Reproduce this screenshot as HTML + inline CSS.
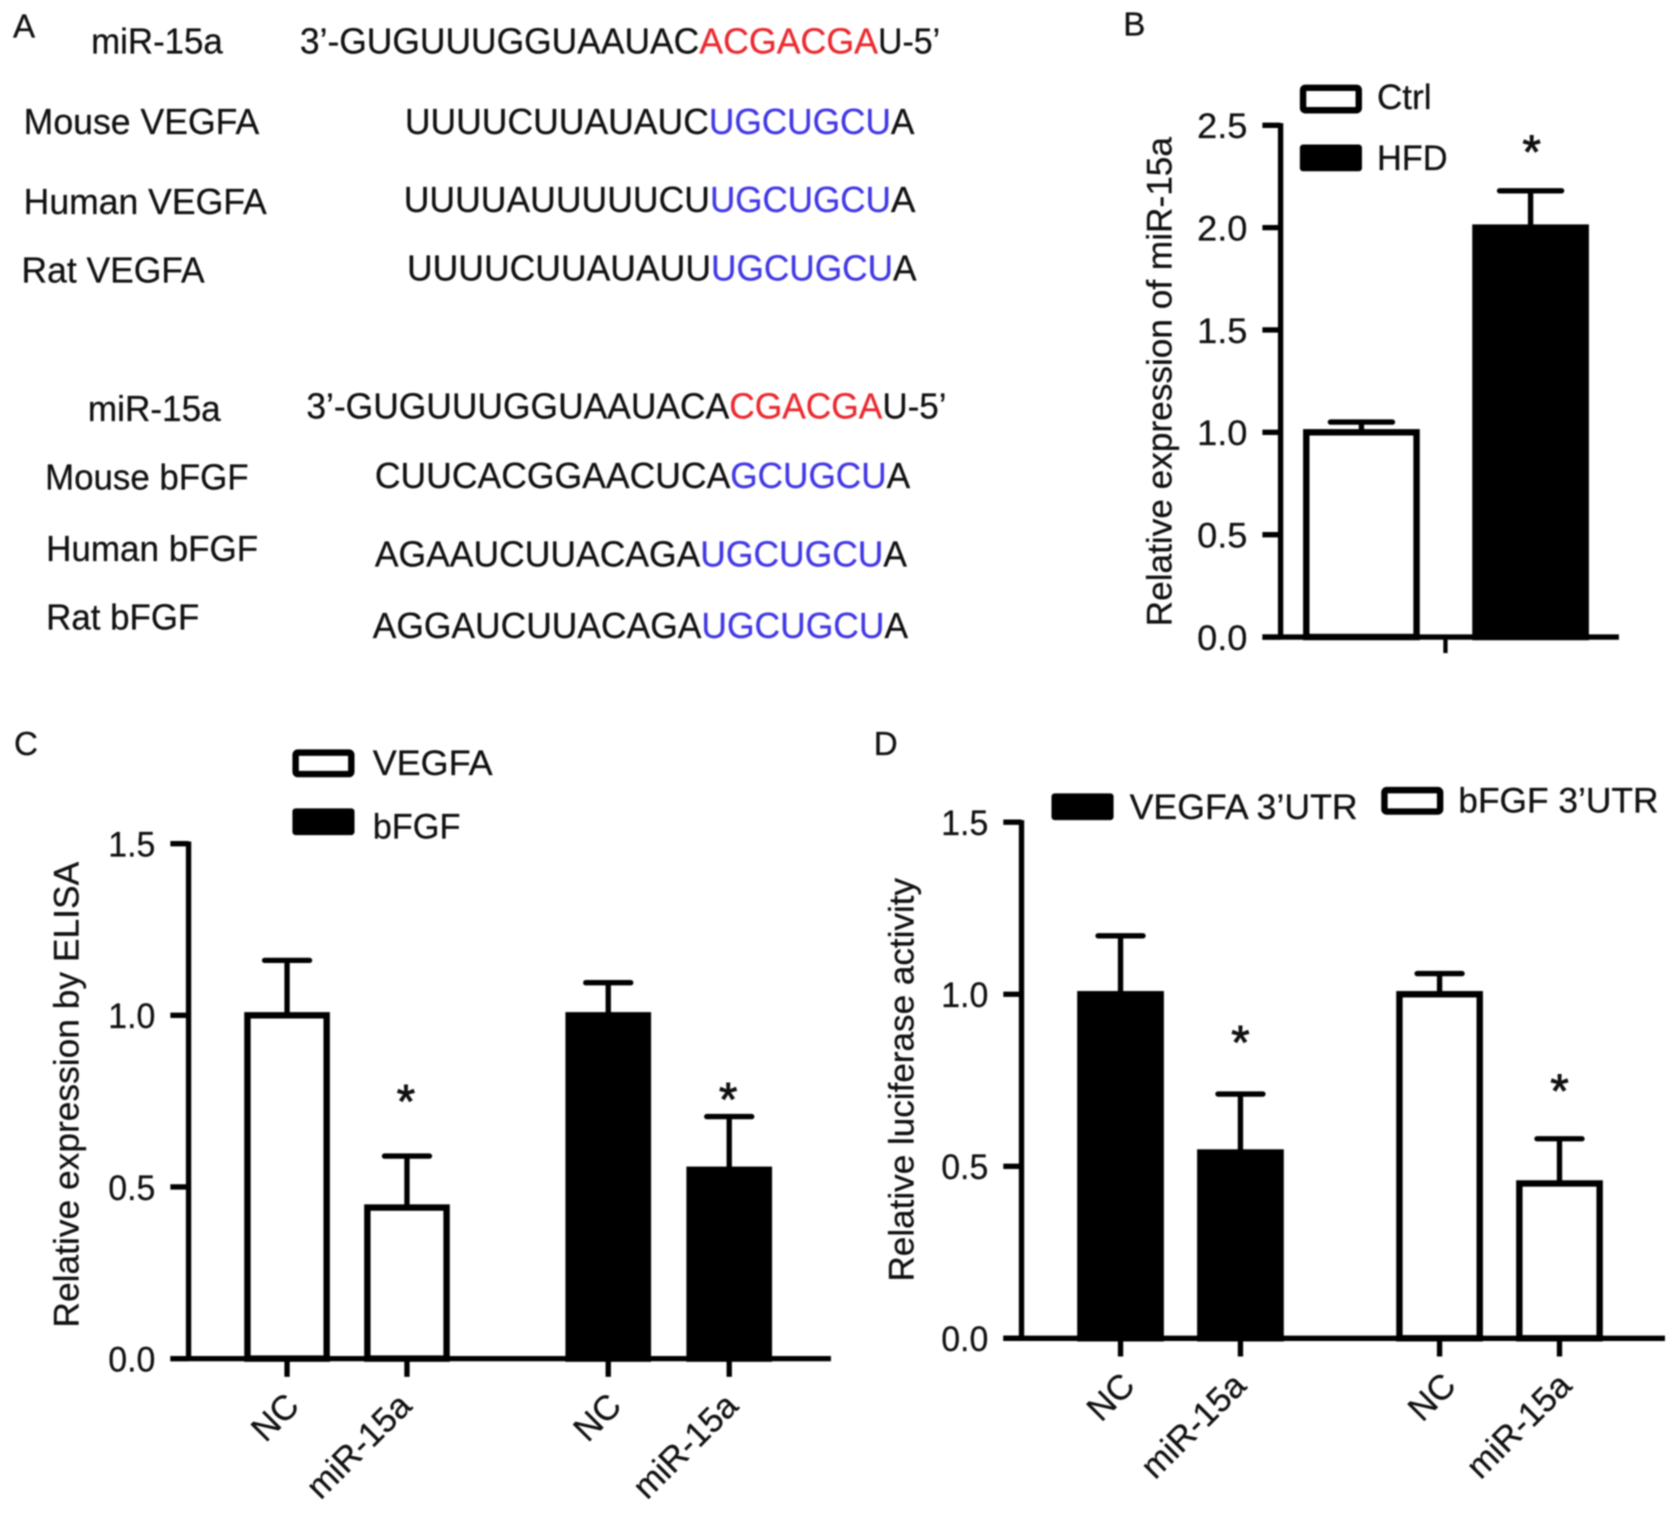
<!DOCTYPE html>
<html>
<head>
<meta charset="utf-8">
<title>miR-15a figure</title>
<style>
html,body{margin:0;padding:0;background:#fff;}
svg{display:block;filter:blur(0.85px);}
text{font-family:"Liberation Sans",sans-serif;fill:#111;stroke:#111;stroke-width:0.25px;}
.seq,.lab{font-size:34px;}
.red{fill:#ea2a30;stroke:#ea2a30;}
.blue{fill:#4238e4;stroke:#4238e4;}
.letter{font-size:31px;}
.leg{font-size:33px;}
.ttl{font-size:33px;}
</style>
</head>
<body>
<svg id="figure" xmlns="http://www.w3.org/2000/svg" width="1679" height="1516" viewBox="0 0 1568 1416">
<rect width="1568" height="1416" fill="#fff"/>
<g>
<text class="letter" x="12" y="35">A</text>
<text class="lab" x="85" y="50" textLength="123" lengthAdjust="spacingAndGlyphs">miR-15a</text>
<text class="seq" x="280" y="50" textLength="373" lengthAdjust="spacingAndGlyphs">3’-GUGUUUGGUAAUAC</text>
<text class="seq red" x="653" y="50" textLength="167" lengthAdjust="spacingAndGlyphs">ACGACGA</text>
<text class="seq" x="820" y="50" textLength="58" lengthAdjust="spacingAndGlyphs">U-5’</text>

<text class="lab" x="22" y="125" textLength="220" lengthAdjust="spacingAndGlyphs">Mouse VEGFA</text>
<text class="seq" x="378" y="125" textLength="284" lengthAdjust="spacingAndGlyphs">UUUUCUUAUAUC</text>
<text class="seq blue" x="662" y="125" textLength="170" lengthAdjust="spacingAndGlyphs">UGCUGCU</text>
<text class="seq" x="832" y="125" textLength="22" lengthAdjust="spacingAndGlyphs">A</text>

<text class="lab" x="22" y="200" textLength="227" lengthAdjust="spacingAndGlyphs">Human VEGFA</text>
<text class="seq" x="377" y="198" textLength="286" lengthAdjust="spacingAndGlyphs">UUUUAUUUUUCU</text>
<text class="seq blue" x="663" y="198" textLength="169" lengthAdjust="spacingAndGlyphs">UGCUGCU</text>
<text class="seq" x="832" y="198" textLength="23" lengthAdjust="spacingAndGlyphs">A</text>

<text class="lab" x="20" y="264" textLength="171" lengthAdjust="spacingAndGlyphs">Rat VEGFA</text>
<text class="seq" x="380" y="262" textLength="284" lengthAdjust="spacingAndGlyphs">UUUUCUUAUAUU</text>
<text class="seq blue" x="664" y="262" textLength="170" lengthAdjust="spacingAndGlyphs">UGCUGCU</text>
<text class="seq" x="834" y="262" textLength="22" lengthAdjust="spacingAndGlyphs">A</text>

<text class="lab" x="82" y="393" textLength="124" lengthAdjust="spacingAndGlyphs">miR-15a</text>
<text class="seq" x="286" y="391" textLength="395" lengthAdjust="spacingAndGlyphs">3’-GUGUUUGGUAAUACA</text>
<text class="seq red" x="681" y="391" textLength="143" lengthAdjust="spacingAndGlyphs">CGACGA</text>
<text class="seq" x="824" y="391" textLength="60" lengthAdjust="spacingAndGlyphs">U-5’</text>

<text class="lab" x="42" y="457" textLength="190" lengthAdjust="spacingAndGlyphs">Mouse bFGF</text>
<text class="seq" x="350" y="456" textLength="332" lengthAdjust="spacingAndGlyphs">CUUCACGGAACUCA</text>
<text class="seq blue" x="682" y="456" textLength="146" lengthAdjust="spacingAndGlyphs">GCUGCU</text>
<text class="seq" x="828" y="456" textLength="22" lengthAdjust="spacingAndGlyphs">A</text>

<text class="lab" x="43" y="524" textLength="198" lengthAdjust="spacingAndGlyphs">Human bFGF</text>
<text class="seq" x="350" y="529" textLength="304" lengthAdjust="spacingAndGlyphs">AGAAUCUUACAGA</text>
<text class="seq blue" x="654" y="529" textLength="171" lengthAdjust="spacingAndGlyphs">UGCUGCU</text>
<text class="seq" x="825" y="529" textLength="22" lengthAdjust="spacingAndGlyphs">A</text>

<text class="lab" x="43" y="588" textLength="143" lengthAdjust="spacingAndGlyphs">Rat bFGF</text>
<text class="seq" x="348" y="596" textLength="307" lengthAdjust="spacingAndGlyphs">AGGAUCUUACAGA</text>
<text class="seq blue" x="655" y="596" textLength="171" lengthAdjust="spacingAndGlyphs">UGCUGCU</text>
<text class="seq" x="826" y="596" textLength="22" lengthAdjust="spacingAndGlyphs">A</text>
</g>

<g>
<text class="letter" x="1049" y="33">B</text>
<text class="letter" x="13" y="705">C</text>
<text class="letter" x="816" y="705">D</text>

<rect x="1217" y="82" width="52" height="21" fill="#fff" stroke="#000" stroke-width="6" rx="2"/>
<text class="leg" x="1286" y="102" textLength="51" lengthAdjust="spacingAndGlyphs">Ctrl</text>
<rect x="1214" y="135" width="58" height="25" fill="#000" rx="3"/>
<text class="leg" x="1286" y="159" textLength="66" lengthAdjust="spacingAndGlyphs">HFD</text>
<text class="ttl" transform="translate(1094 585) rotate(-90)" textLength="457" lengthAdjust="spacingAndGlyphs">Relative expression of miR-15a</text>

<rect x="276" y="703" width="52" height="20" fill="#fff" stroke="#000" stroke-width="6" rx="2"/>
<text class="leg" x="348" y="724" textLength="112" lengthAdjust="spacingAndGlyphs">VEGFA</text>
<rect x="273" y="755" width="58" height="25" fill="#000" rx="3"/>
<text class="leg" x="348" y="783" textLength="82" lengthAdjust="spacingAndGlyphs">bFGF</text>
<text class="ttl" transform="translate(73 1240) rotate(-90)" textLength="435" lengthAdjust="spacingAndGlyphs">Relative expression by ELISA</text>

<rect x="982" y="741" width="58" height="25" fill="#000" rx="3"/>
<text class="leg" x="1055" y="765" textLength="213" lengthAdjust="spacingAndGlyphs">VEGFA 3’UTR</text>
<rect x="1293" y="738" width="52" height="20" fill="#fff" stroke="#000" stroke-width="6" rx="2"/>
<text class="leg" x="1362" y="759" textLength="187" lengthAdjust="spacingAndGlyphs">bFGF 3’UTR</text>
<text class="ttl" transform="translate(853 1197) rotate(-90)" textLength="377" lengthAdjust="spacingAndGlyphs">Relative luciferase activity</text>
</g>
<g id="charts"></g>
</svg>
<script>
// Panel B data
var bCategories = ["Ctrl", "HFD"];
var bValues = [1.0, 2.0];
var bErrorTops = [1.05, 2.18];
var bStars = [null, 2.395];
var bFills = ["white", "black"];
var bTicks = [0, 0.5, 1, 1.5, 2, 2.5];
var bTickLabels = ["0.0", "0.5", "1.0", "1.5", "2.0", "2.5"];

// Panel C data
var cCategories = ["NC", "miR-15a", "NC", "miR-15a"];
var cValues = [1.0, 0.44, 1.0, 0.55];
var cErrorTops = [1.16, 0.59, 1.095, 0.705];
var cStars = [null, 0.765, null, 0.77];
var cFills = ["white", "white", "black", "black"];
var cTicks = [0, 0.5, 1, 1.5];
var cTickLabels = ["0.0", "0.5", "1.0", "1.5"];

// Panel D data
var dCategories = ["NC", "miR-15a", "NC", "miR-15a"];
var dValues = [1.0, 0.54, 1.0, 0.45];
var dErrorTops = [1.17, 0.71, 1.06, 0.58];
var dStars = [null, 0.875, null, 0.735];
var dFills = ["black", "black", "white", "white"];
var dTicks = [0, 0.5, 1, 1.5];
var dTickLabels = ["0.0", "0.5", "1.0", "1.5"];

var NS = "http://www.w3.org/2000/svg";
var root = document.getElementById("charts");

function mk(parent, tag, attrs) {
  var el = document.createElementNS(NS, tag);
  for (var k in attrs) { el.setAttribute(k, attrs[k]); }
  parent.appendChild(el);
  return el;
}

function drawPanel(p) {
  var g = mk(root, "g", {});
  
  

  function y(v) { return p.y0 - (v / p.yMax) * (p.y0 - p.yTop); }
  function x(i) { return p.groupStarts[i] + p.barW / 2; }

  p.values.forEach(function (v, i) {
    var cx = x(i);
    var top = y(v);
    var errTop = y(p.errorTops[i]);

    var stem = mk(g, "line", {x1: cx, x2: cx, y1: top, y2: errTop, stroke: "#000", "stroke-width": 5});
    
    

    var cap = mk(g, "line", {x1: cx - p.capW / 2, x2: cx + p.capW / 2, y1: errTop, y2: errTop, stroke: "#000", "stroke-width": 5, "stroke-linecap": "round"});
    
    

    var bar = mk(g, "rect", {x: cx - p.barW / 2 + 3, y: top, width: p.barW - 6, height: p.y0 - top, fill: p.fills[i] === "black" ? "#000" : "#fff", stroke: "#000", "stroke-width": 6});
    
    

    if (p.stars[i] !== null) {
      var star = mk(g, "text", {x: cx + p.starDx, y: y(p.stars[i]) + 20, "text-anchor": "middle", "font-size": 44, style: "stroke-width:0.9px"});
      star.textContent = "*";
      
      
    }

    if (p.rotateLabels) {
      var tick = mk(g, "line", {x1: cx, x2: cx, y1: p.y0, y2: p.y0 + 17, stroke: "#000", "stroke-width": 5});
      
      

      var lx = cx + p.labelDx[i];
      var ly = p.y0 + 46;
      var lab = mk(g, "text", {transform: "translate(" + lx + " " + ly + ") rotate(-45)", "text-anchor": "end", "font-size": 32.5});
      lab.textContent = p.categories[i];
      
      
    }
  });

  if (!p.rotateLabels) {
    var midTick = mk(g, "line", {x1: p.midTickX, x2: p.midTickX, y1: p.y0, y2: p.y0 + 15, stroke: "#000", "stroke-width": 4});
    
    
  }

  var yAxis = mk(g, "line", {x1: p.axisX, x2: p.axisX, y1: y(p.yMax) - 2, y2: p.y0, stroke: "#000", "stroke-width": 5});
  
  

  var xAxis = mk(g, "line", {x1: p.axisX - 17, x2: p.xEnd, y1: p.y0, y2: p.y0, stroke: "#000", "stroke-width": 5});
  
  

  p.ticks.forEach(function (t, i) {
    var ty = y(t);
    var tk = mk(g, "line", {x1: p.axisX - 17, x2: p.axisX, y1: ty, y2: ty, stroke: "#000", "stroke-width": 5});
    
    

    var tl = mk(g, "text", {x: p.axisX - 31, y: ty + 12, "text-anchor": "end", "font-size": 33, textLength: p.tickLabelW, lengthAdjust: "spacingAndGlyphs"});
    tl.textContent = p.tickLabels[i];
    
    
  });
}

drawPanel({id: "b", categories: bCategories, values: bValues, errorTops: bErrorTops, stars: bStars, fills: bFills, ticks: bTicks, tickLabels: bTickLabels,
  axisX: 1196, xEnd: 1512, y0: 595, yTop: 117, yMax: 2.5, groupStarts: [1217, 1375], barW: 109, capW: 58, starDx: 1, rotateLabels: false, midTickX: 1350, tickLabelW: 47});
drawPanel({id: "c", categories: cCategories, values: cValues, errorTops: cErrorTops, stars: cStars, fills: cFills, ticks: cTicks, tickLabels: cTickLabels,
  axisX: 176, xEnd: 776, y0: 1269, yTop: 788, yMax: 1.5, groupStarts: [228, 340, 528, 641], barW: 80, capW: 42, starDx: -1, rotateLabels: true, labelDx: [13, 6, 14, 10], tickLabelW: 44});
drawPanel({id: "d", categories: dCategories, values: dValues, errorTops: dErrorTops, stars: dStars, fills: dFills, ticks: dTicks, tickLabels: dTickLabels,
  axisX: 954, xEnd: 1555, y0: 1250, yTop: 768, yMax: 1.5, groupStarts: [1006, 1118, 1304, 1416], barW: 81, capW: 42, starDx: 0, rotateLabels: true, labelDx: [15, 7, 17, 13], tickLabelW: 44});
</script>
</body>
</html>
